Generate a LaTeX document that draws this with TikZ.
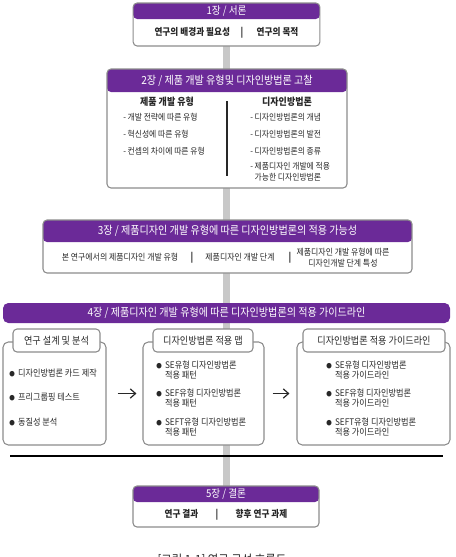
\documentclass[tikz,border=0pt]{standalone}
\usepackage{fontspec}
\newfontfamily\kr{Noto Sans CJK KR}[FakeStretch=0.9]
\usetikzlibrary{arrows.meta, positioning, fit, backgrounds}
\definecolor{PU}{RGB}{107,42,152}
\definecolor{BAR}{RGB}{200,200,200}
\definecolor{FR}{RGB}{140,140,140}
\definecolor{TX}{RGB}{40,40,40}
\newcommand\bdot{{\fontsize{4.6}{5}\selectfont ●}\hspace{2.5pt}}

\begin{document}
\begin{tikzpicture}[x=0.75pt, y=-0.75pt,
  head/.style={font=\kr\fontsize{8.4}{10}\selectfont, text=white,
               inner sep=0pt, outer sep=0pt},
  body/.style={font=\kr\fontsize{7.2}{9}\selectfont\bfseries, text=TX,
               inner sep=0pt, outer sep=0pt},
  chap/.style={draw=FR, line width=0.8pt, rounded corners=3pt, fill=white,
               inner sep=0pt,
               path picture={\fill[PU] (path picture bounding box.north west)
                             rectangle (#1.south east);}},
  sub/.style={font=\kr\fontsize{7.5}{9}\selectfont\bfseries, text=TX, inner sep=0pt},
  item/.style={font=\kr\fontsize{6.5}{8}\selectfont, text=TX, inner sep=0pt,
               anchor=west, align=left},
  note/.style={font=\kr\fontsize{6.6}{8}\selectfont, text=TX, inner sep=0pt},
  panel/.style={draw=FR, line width=0.8pt, rounded corners=4pt, fill=white,
                minimum height=77.25pt, inner sep=0pt},
  tag/.style={draw=FR, line width=0.8pt, rounded corners=3pt, fill=white,
              minimum height=17.25pt, inner sep=0pt,
              font=\kr\fontsize{7.6}{9}\selectfont, text=TX},
  bul/.style={font=\kr\fontsize{6.8}{7.8}\selectfont, text=TX, inner sep=0pt,
              anchor=west, align=left},
  arr/.style={-{Straight Barb[length=4pt, width=7pt]}, line width=0.9pt, draw=TX},
  bar/.style={draw=BAR, line width=5.25pt},
  divider/.style={draw=TX, line width=1.1pt},
  sepline/.style={draw=black, line width=1.5pt}
]
\useasboundingbox (0,0) rectangle (455,557);

% chapter 1
\node[head, font=\kr\fontsize{8}{10}\selectfont, minimum width=140pt, minimum height=12pt] (h1) at (226.5,11) {1장 / 서론};
\node[body, minimum width=140pt, minimum height=20.25pt, below=0pt of h1] (b1) {연구의 배경과 필요성\hspace{8pt}|\hspace{10pt}연구의 목적};

% chapter 2
\node[head, minimum width=180pt, minimum height=17.25pt] (h2) at (227,80.5) {2장 / 제품 개발 유형및 디자인방법론 고찰};
\node[inner sep=0pt, outer sep=0pt, minimum width=180pt, minimum height=72pt, below=0pt of h2] (b2) {};
\node[sub] (t21) at (167,102) {제품 개발 유형};
\node[item] (i21) at (123,117) {- 개발 전략에 따른 유형};
\node[item] (i22) at (123,134) {- 혁신성에 따른 유형};
\node[item] (i23) at (123,151) {- 컨셉의 차이에 따른 유형};
\node[sub] (t22) at (287,102) {디자인방법론};
\node[item] (i24) at (250,117) {- 디자인방법론의 개념};
\node[item] (i25) at (250,134) {- 디자인방법론의 발전};
\node[item] (i26) at (250,151) {- 디자인방법론의 종류};
\node[item] (i27) at (250,172) {- 제품디자인 개발에 적용\\\hphantom{- }가능한 디자인방법론};
\coordinate (d1) at (227,101);
\coordinate (d2) at (227,176);
\draw[divider] (d1) -- (d2);

% chapter 3
\node[head, minimum width=276.75pt, minimum height=16.5pt] (h3) at (227.5,231) {3장 / 제품디자인 개발 유형에 따른 디자인방법론의 적용 가능성};
\node[inner sep=0pt, outer sep=0pt, minimum width=276.75pt, minimum height=23.25pt, below=0pt of h3] (b3) {};
\node[note] (n31) at (120,257.5) {본 연구에서의 제품디자인 개발 유형};
\node[body] (s31) at (192,257.5) {|};
\node[note] (n32) at (240,257.5) {제품디자인 개발 단계};
\node[body] (s32) at (290,257.5) {|};
\node[note, align=center] (n33) at (343,257.5) {제품디자인 개발 유형에 따른\\디자인개발 단계 특성};

% chapter 4
\node[head, fill=PU, rounded corners=4pt, minimum width=335.25pt, minimum height=15pt] (h4) at (226.5,313) {4장 / 제품디자인 개발 유형에 따른 디자인방법론의 적용 가이드라인};
\node[panel, minimum width=77.25pt] (p1) at (54.5,393.5) {};
\node[panel, minimum width=90.75pt] (p2) at (203.5,393.5) {};
\node[panel, minimum width=114.75pt] (p3) at (373.5,393.5) {};
\node[tag, minimum width=65.25pt] (l1) at (56.5,340.5) {연구 설계 및 분석};
\node[tag, minimum width=75pt] (l2) at (203,340.5) {디자인방법론 적용 맵};
\node[tag, minimum width=106.5pt] (l3) at (374,340.5) {디자인방법론 적용 가이드라인};

\node[bul] (q11) at (9,373) {\bdot 디자인방법론 카드 제작};
\node[bul] (q12) at (9,397) {\bdot 프리그룹핑 테스트};
\node[bul] (q13) at (9,422) {\bdot 동질성 분석};

\node[bul] (q21) at (156,370) {\bdot SE유형 디자인방법론\\\hphantom{\bdot}적용 패턴};
\node[bul] (q22) at (156,398) {\bdot SEF유형 디자인방법론\\\hphantom{\bdot}적용 패턴};
\node[bul] (q23) at (156,427) {\bdot SEFT유형 디자인방법론\\\hphantom{\bdot}적용 패턴};

\node[bul] (q31) at (326,370) {\bdot SE유형 디자인방법론\\\hphantom{\bdot}적용 가이드라인};
\node[bul] (q32) at (326,398) {\bdot SEF유형 디자인방법론\\\hphantom{\bdot}적용 가이드라인};
\node[bul] (q33) at (326,427) {\bdot SEFT유형 디자인방법론\\\hphantom{\bdot}적용 가이드라인};

\draw[arr, shorten <=8.25pt, shorten >=4.5pt] (p1.east) -- (p2.west);
\draw[arr, shorten <=6pt, shorten >=5.25pt] (p2.east) -- (p3.west);

\coordinate (r1) at (10,456);
\coordinate (r2) at (443,456);
\draw[sepline] (r1) -- (r2);

% chapter 5
\node[head, font=\kr\fontsize{8}{10}\selectfont, minimum width=139.5pt, minimum height=12pt] (h5) at (226,494) {5장 / 결론};
\node[body, minimum width=139.5pt, minimum height=18.75pt, below=0pt of h5] (b5) {연구 결과\hspace{13pt}|\hspace{13pt}향후 연구 과제};

\node[font=\kr\fontsize{9.5}{11}\selectfont, text=TX, inner sep=0pt] (cap) at (222,560) {[그림 1-1] 연구 구성 흐름도};

\begin{scope}[on background layer]
  \draw[bar] (b1.south) -- (b1.south |- h5.north);
  \node[chap=h1, fit=(h1)(b1)] (c1) {};
  \node[chap=h2, fit=(h2)(b2)] (c2) {};
  \node[chap=h3, fit=(h3)(b3)] (c3) {};
  \node[chap=h5, fit=(h5)(b5)] (c5) {};
\end{scope}
\end{tikzpicture}
\end{document}
